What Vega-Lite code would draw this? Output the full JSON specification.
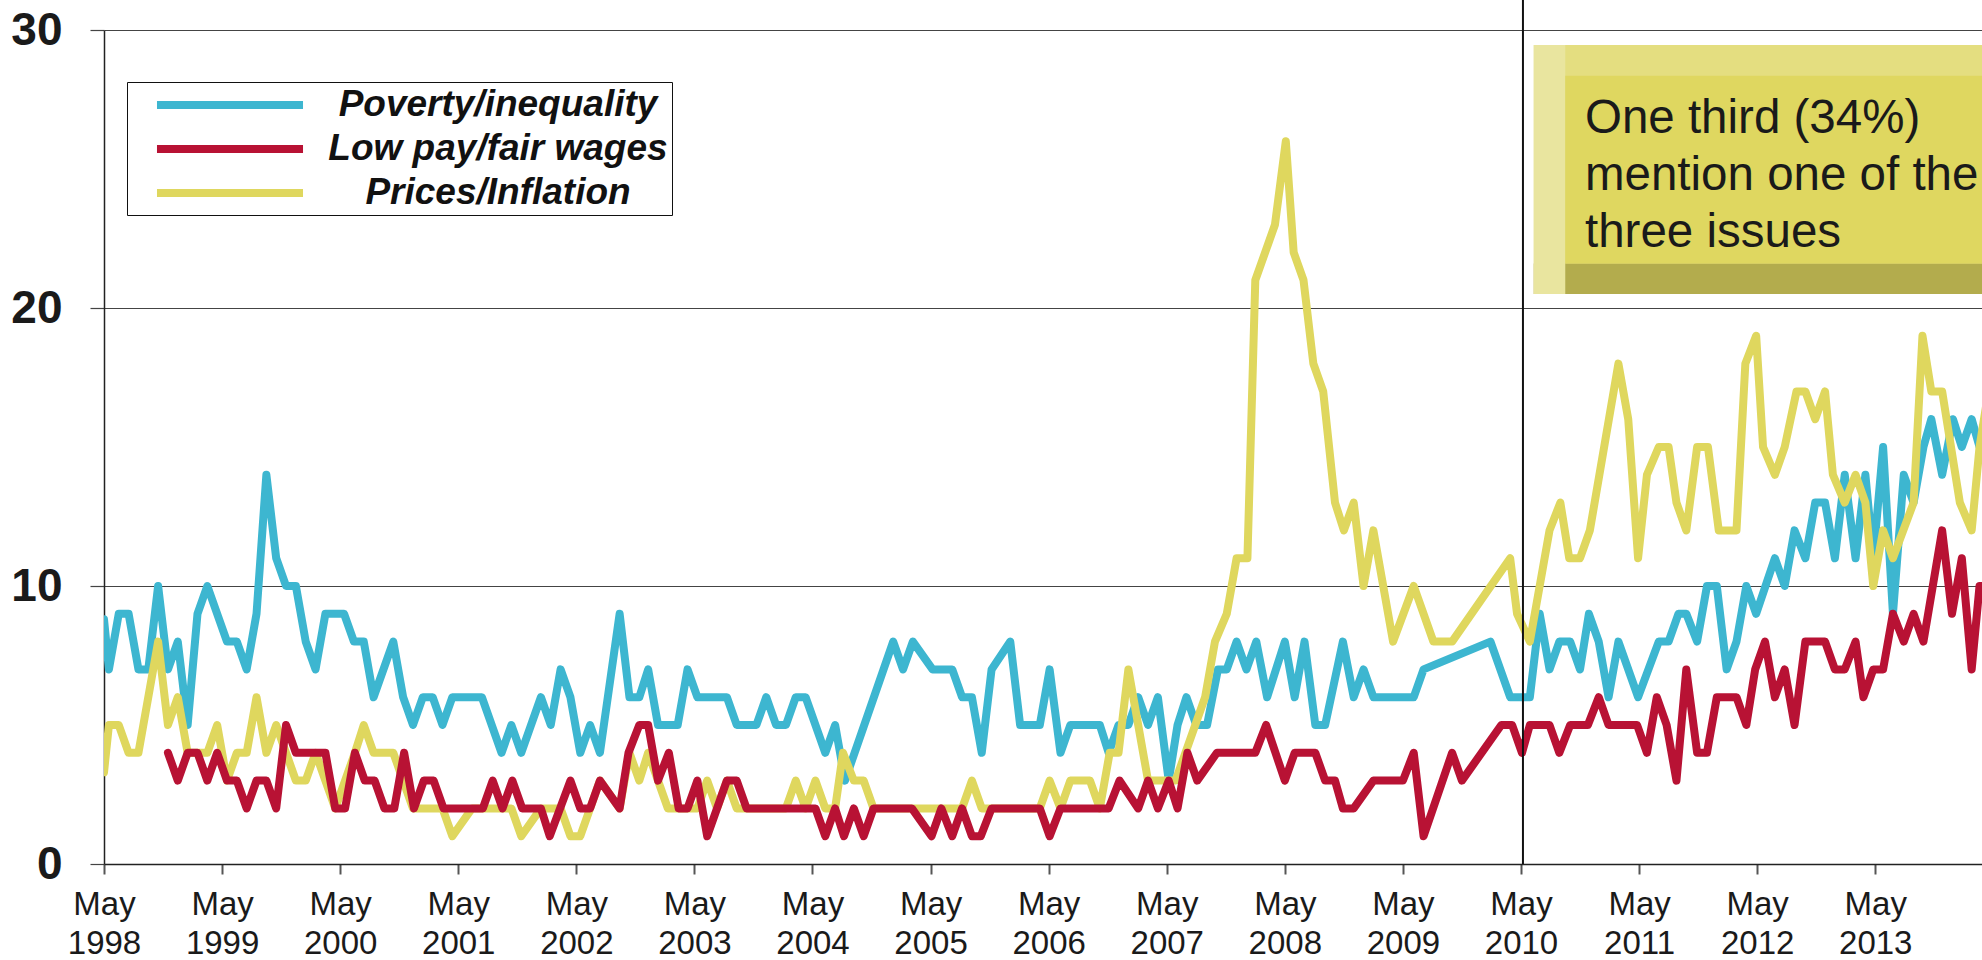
{
  "$schema": "https://vega.github.io/schema/vega-lite/v6.json",
  "width": 1878,
  "height": 834,
  "autosize": {"type": "none"},
  "padding": {"left": 104, "top": 30, "right": 0, "bottom": 96},
  "background": "white",
  "config": {"view": {"stroke": null}, "font": "Liberation Sans"},
  "datasets": {
    "poverty": [
      {"month":0,"pct":8.8},{"month":0.5,"pct":7},{"month":1.5,"pct":9},{"month":2.5,"pct":9},{"month":3.5,"pct":7},{"month":4.5,"pct":7},{"month":5.5,"pct":10},{"month":6.5,"pct":7},{"month":7.5,"pct":8},{"month":8.5,"pct":5},{"month":9.5,"pct":9},{"month":10.5,"pct":10},{"month":12.5,"pct":8},{"month":13.5,"pct":8},{"month":14.5,"pct":7},{"month":15.5,"pct":9},{"month":16.5,"pct":14},{"month":17.5,"pct":11},{"month":18.5,"pct":10},{"month":19.5,"pct":10},{"month":20.5,"pct":8},{"month":21.5,"pct":7},{"month":22.5,"pct":9},{"month":24.4,"pct":9},{"month":25.4,"pct":8},{"month":26.4,"pct":8},{"month":27.4,"pct":6},{"month":29.4,"pct":8},{"month":30.4,"pct":6},{"month":31.4,"pct":5},{"month":32.4,"pct":6},{"month":33.4,"pct":6},{"month":34.4,"pct":5},{"month":35.4,"pct":6},{"month":38.4,"pct":6},{"month":40.4,"pct":4},{"month":41.4,"pct":5},{"month":42.4,"pct":4},{"month":44.4,"pct":6},{"month":45.4,"pct":5},{"month":46.4,"pct":7},{"month":47.4,"pct":6},{"month":48.4,"pct":4},{"month":49.4,"pct":5},{"month":50.4,"pct":4},{"month":52.4,"pct":9},{"month":53.4,"pct":6},{"month":54.4,"pct":6},{"month":55.3,"pct":7},{"month":56.3,"pct":5},{"month":58.3,"pct":5},{"month":59.3,"pct":7},{"month":60.3,"pct":6},{"month":63.3,"pct":6},{"month":64.3,"pct":5},{"month":66.3,"pct":5},{"month":67.3,"pct":6},{"month":68.3,"pct":5},{"month":69.3,"pct":5},{"month":70.3,"pct":6},{"month":71.3,"pct":6},{"month":73.3,"pct":4},{"month":74.3,"pct":5},{"month":75.3,"pct":3},{"month":80.2,"pct":8},{"month":81.2,"pct":7},{"month":82.2,"pct":8},{"month":84.2,"pct":7},{"month":86.2,"pct":7},{"month":87.2,"pct":6},{"month":88.2,"pct":6},{"month":89.2,"pct":4},{"month":90.2,"pct":7},{"month":92.1,"pct":8},{"month":93.1,"pct":5},{"month":95.1,"pct":5},{"month":96.1,"pct":7},{"month":97.2,"pct":4},{"month":98.2,"pct":5},{"month":101.2,"pct":5},{"month":102.1,"pct":4},{"month":103.1,"pct":5},{"month":104.1,"pct":5},{"month":105.1,"pct":6},{"month":106.1,"pct":5},{"month":107.1,"pct":6},{"month":108.2,"pct":3},{"month":109.1,"pct":5},{"month":110.0,"pct":6},{"month":111.0,"pct":5},{"month":112.1,"pct":5},{"month":113.2,"pct":7},{"month":114.1,"pct":7},{"month":115.1,"pct":8},{"month":116.1,"pct":7},{"month":117.1,"pct":8},{"month":118.2,"pct":6},{"month":120.0,"pct":8},{"month":121.0,"pct":6},{"month":122.0,"pct":8},{"month":123.1,"pct":5},{"month":124.1,"pct":5},{"month":125.9,"pct":8},{"month":127.0,"pct":6},{"month":128.0,"pct":7},{"month":129.0,"pct":6},{"month":133.1,"pct":6},{"month":134.1,"pct":7},{"month":140.9,"pct":8},{"month":142.9,"pct":6},{"month":144.9,"pct":6},{"month":145.9,"pct":9},{"month":146.9,"pct":7},{"month":147.9,"pct":8},{"month":149.0,"pct":8},{"month":150.0,"pct":7},{"month":150.9,"pct":9},{"month":151.9,"pct":8},{"month":152.9,"pct":6},{"month":153.9,"pct":8},{"month":155.9,"pct":6},{"month":158.0,"pct":8},{"month":159.0,"pct":8},{"month":160.0,"pct":9},{"month":160.8,"pct":9},{"month":161.9,"pct":8},{"month":162.9,"pct":10},{"month":163.9,"pct":10},{"month":164.9,"pct":7},{"month":165.9,"pct":8},{"month":166.9,"pct":10},{"month":167.9,"pct":9},{"month":169.8,"pct":11},{"month":170.8,"pct":10},{"month":171.8,"pct":12},{"month":172.9,"pct":11},{"month":173.9,"pct":13},{"month":174.9,"pct":13},{"month":175.9,"pct":11},{"month":176.9,"pct":14},{"month":178.0,"pct":11},{"month":179.0,"pct":14},{"month":179.8,"pct":11},{"month":180.8,"pct":15},{"month":181.8,"pct":9},{"month":182.9,"pct":14},{"month":183.9,"pct":13},{"month":184.9,"pct":15},{"month":185.7,"pct":16},{"month":186.8,"pct":14},{"month":187.9,"pct":16},{"month":188.8,"pct":15},{"month":189.8,"pct":16},{"month":190.6,"pct":15},{"month":191.5,"pct":15}
    ],
    "lowpay": [
      {"month":6.5,"pct":4},{"month":7.5,"pct":3},{"month":8.5,"pct":4},{"month":9.5,"pct":4},{"month":10.5,"pct":3},{"month":11.5,"pct":4},{"month":12.5,"pct":3},{"month":13.5,"pct":3},{"month":14.5,"pct":2},{"month":15.5,"pct":3},{"month":16.5,"pct":3},{"month":17.5,"pct":2},{"month":18.5,"pct":5},{"month":19.5,"pct":4},{"month":20.5,"pct":4},{"month":21.5,"pct":4},{"month":22.5,"pct":4},{"month":23.5,"pct":2},{"month":24.5,"pct":2},{"month":25.5,"pct":4},{"month":26.5,"pct":3},{"month":27.5,"pct":3},{"month":28.5,"pct":2},{"month":29.5,"pct":2},{"month":30.5,"pct":4},{"month":31.5,"pct":2},{"month":32.5,"pct":3},{"month":33.5,"pct":3},{"month":34.5,"pct":2},{"month":38.5,"pct":2},{"month":39.5,"pct":3},{"month":40.5,"pct":2},{"month":41.5,"pct":3},{"month":42.5,"pct":2},{"month":44.4,"pct":2},{"month":45.3,"pct":1},{"month":47.4,"pct":3},{"month":48.4,"pct":2},{"month":49.4,"pct":2},{"month":50.4,"pct":3},{"month":52.4,"pct":2},{"month":53.3,"pct":4},{"month":54.4,"pct":5},{"month":55.3,"pct":5},{"month":56.3,"pct":3},{"month":57.4,"pct":4},{"month":58.4,"pct":2},{"month":59.3,"pct":2},{"month":60.3,"pct":3},{"month":61.3,"pct":1},{"month":63.3,"pct":3},{"month":64.3,"pct":3},{"month":65.3,"pct":2},{"month":72.3,"pct":2},{"month":73.3,"pct":1},{"month":74.3,"pct":2},{"month":75.2,"pct":1},{"month":76.2,"pct":2},{"month":77.2,"pct":1},{"month":78.2,"pct":2},{"month":82.1,"pct":2},{"month":84.1,"pct":1},{"month":85.1,"pct":2},{"month":86.2,"pct":1},{"month":87.2,"pct":2},{"month":88.2,"pct":1},{"month":89.1,"pct":1},{"month":90.2,"pct":2},{"month":95.1,"pct":2},{"month":96.1,"pct":1},{"month":97.2,"pct":2},{"month":102.1,"pct":2},{"month":103.2,"pct":3},{"month":105.1,"pct":2},{"month":106.1,"pct":3},{"month":107.1,"pct":2},{"month":108.2,"pct":3},{"month":109.1,"pct":2},{"month":110.1,"pct":4},{"month":111.1,"pct":3},{"month":113.1,"pct":4},{"month":117.0,"pct":4},{"month":118.1,"pct":5},{"month":120.0,"pct":3},{"month":121.0,"pct":4},{"month":123.1,"pct":4},{"month":124.1,"pct":3},{"month":125.1,"pct":3},{"month":125.9,"pct":2},{"month":127.0,"pct":2},{"month":129.0,"pct":3},{"month":132.0,"pct":3},{"month":133.1,"pct":4},{"month":134.1,"pct":1},{"month":137.0,"pct":4},{"month":138.0,"pct":3},{"month":142.0,"pct":5},{"month":143.1,"pct":5},{"month":144.1,"pct":4},{"month":144.9,"pct":5},{"month":146.9,"pct":5},{"month":147.9,"pct":4},{"month":149.0,"pct":5},{"month":150.8,"pct":5},{"month":151.9,"pct":6},{"month":152.9,"pct":5},{"month":155.8,"pct":5},{"month":156.8,"pct":4},{"month":157.8,"pct":6},{"month":158.8,"pct":5},{"month":159.8,"pct":3},{"month":160.8,"pct":7},{"month":161.9,"pct":4},{"month":162.9,"pct":4},{"month":163.9,"pct":6},{"month":165.9,"pct":6},{"month":166.9,"pct":5},{"month":167.8,"pct":7},{"month":168.8,"pct":8},{"month":169.8,"pct":6},{"month":170.8,"pct":7},{"month":171.8,"pct":5},{"month":172.9,"pct":8},{"month":174.9,"pct":8},{"month":175.9,"pct":7},{"month":176.9,"pct":7},{"month":178.0,"pct":8},{"month":178.8,"pct":6},{"month":179.8,"pct":7},{"month":180.8,"pct":7},{"month":181.8,"pct":9},{"month":182.9,"pct":8},{"month":183.9,"pct":9},{"month":184.9,"pct":8},{"month":186.8,"pct":12},{"month":187.8,"pct":9},{"month":188.8,"pct":11},{"month":189.8,"pct":7},{"month":190.6,"pct":10},{"month":191.5,"pct":10}
    ],
    "prices": [
      {"month":0,"pct":3.3},{"month":0.5,"pct":5},{"month":1.5,"pct":5},{"month":2.5,"pct":4},{"month":3.5,"pct":4},{"month":5.5,"pct":8},{"month":6.5,"pct":5},{"month":7.5,"pct":6},{"month":8.5,"pct":4},{"month":10.5,"pct":4},{"month":11.5,"pct":5},{"month":12.5,"pct":3},{"month":13.5,"pct":4},{"month":14.5,"pct":4},{"month":15.5,"pct":6},{"month":16.5,"pct":4},{"month":17.5,"pct":5},{"month":18.5,"pct":4},{"month":19.5,"pct":3},{"month":20.5,"pct":3},{"month":21.5,"pct":4},{"month":22.5,"pct":3},{"month":23.5,"pct":2},{"month":24.5,"pct":3},{"month":25.5,"pct":4},{"month":26.4,"pct":5},{"month":27.4,"pct":4},{"month":29.4,"pct":4},{"month":30.4,"pct":3},{"month":31.4,"pct":2},{"month":34.4,"pct":2},{"month":35.4,"pct":1},{"month":37.4,"pct":2},{"month":41.4,"pct":2},{"month":42.4,"pct":1},{"month":44.4,"pct":2},{"month":46.4,"pct":2},{"month":47.4,"pct":1},{"month":48.4,"pct":1},{"month":49.4,"pct":2},{"month":50.4,"pct":3},{"month":52.4,"pct":2},{"month":53.4,"pct":4},{"month":54.4,"pct":3},{"month":55.3,"pct":4},{"month":56.3,"pct":3},{"month":57.3,"pct":2},{"month":60.3,"pct":2},{"month":61.3,"pct":3},{"month":62.3,"pct":2},{"month":63.3,"pct":3},{"month":64.3,"pct":2},{"month":69.3,"pct":2},{"month":70.3,"pct":3},{"month":71.3,"pct":2},{"month":72.3,"pct":3},{"month":73.3,"pct":2},{"month":74.3,"pct":2},{"month":75.1,"pct":4},{"month":76.2,"pct":3},{"month":77.2,"pct":3},{"month":78.2,"pct":2},{"month":87.2,"pct":2},{"month":88.2,"pct":3},{"month":89.2,"pct":2},{"month":95.1,"pct":2},{"month":96.1,"pct":3},{"month":97.2,"pct":2},{"month":98.2,"pct":3},{"month":100.2,"pct":3},{"month":101.2,"pct":2},{"month":102.2,"pct":4},{"month":103.1,"pct":4},{"month":104.1,"pct":7},{"month":106.1,"pct":3},{"month":108.9,"pct":3},{"month":111.9,"pct":6},{"month":112.9,"pct":8},{"month":114.1,"pct":9},{"month":115.1,"pct":11},{"month":116.2,"pct":11},{"month":117.0,"pct":21},{"month":119.0,"pct":23},{"month":120.1,"pct":26},{"month":120.9,"pct":22},{"month":121.9,"pct":21},{"month":122.9,"pct":18},{"month":123.9,"pct":17},{"month":125.1,"pct":13},{"month":126.0,"pct":12},{"month":127.0,"pct":13},{"month":128.0,"pct":10},{"month":129.0,"pct":12},{"month":131.0,"pct":8},{"month":133.1,"pct":10},{"month":135.1,"pct":8},{"month":137.0,"pct":8},{"month":142.9,"pct":11},{"month":143.6,"pct":9},{"month":144.9,"pct":8},{"month":146.9,"pct":12},{"month":148.0,"pct":13},{"month":148.9,"pct":11},{"month":150.0,"pct":11},{"month":151.0,"pct":12},{"month":153.9,"pct":18},{"month":154.9,"pct":16},{"month":155.9,"pct":11},{"month":156.8,"pct":14},{"month":158.0,"pct":15},{"month":159.0,"pct":15},{"month":159.8,"pct":13},{"month":160.8,"pct":12},{"month":161.9,"pct":15},{"month":163.0,"pct":15},{"month":164.1,"pct":12},{"month":165.9,"pct":12},{"month":166.8,"pct":18},{"month":167.9,"pct":19},{"month":168.6,"pct":15},{"month":169.8,"pct":14},{"month":170.8,"pct":15},{"month":172.0,"pct":17},{"month":172.9,"pct":17},{"month":173.9,"pct":16},{"month":174.9,"pct":17},{"month":175.7,"pct":14},{"month":176.9,"pct":13},{"month":178.0,"pct":14},{"month":179.0,"pct":13},{"month":179.8,"pct":10},{"month":180.8,"pct":12},{"month":181.8,"pct":11},{"month":183.9,"pct":13},{"month":184.8,"pct":19},{"month":185.7,"pct":17},{"month":186.8,"pct":17},{"month":188.6,"pct":13},{"month":189.8,"pct":12},{"month":190.6,"pct":15},{"month":191.5,"pct":17}
    ]
  },
  "layer": [
    {
      "data": {"name": "poverty"},
      "mark": {"type": "line", "strokeWidth": 8, "strokeJoin": "round", "strokeCap": "round", "clip": true},
      "encoding": {
        "x": {"field": "month", "type": "quantitative",
          "scale": {"domain": [0, 190.85], "nice": false, "zero": false},
          "axis": {"title": null, "values": [0,12,24,36,48,60,72,84,96,108,120,132,144,156,168,180],
            "labelExpr": "['May', '' + (1998 + round(datum.value / 12))]",
            "grid": false, "domain": true, "domainColor": "#222", "domainWidth": 1.5,
            "ticks": true, "tickSize": 10, "tickColor": "#555", "tickWidth": 2,
            "labelFont": "Liberation Sans", "labelFontSize": 33, "labelColor": "#1a1a1a",
            "labelLineHeight": 39, "labelBaseline": "top", "labelPadding": 14, "labelAlign": "center",
            "labelOverlap": false, "labelFlush": false}},
        "y": {"field": "pct", "type": "quantitative",
          "scale": {"domain": [0, 30], "nice": false},
          "axis": {"title": null, "values": [0,10,20,30], "grid": true, "gridColor": "#444", "gridWidth": 1.2,
            "domain": true, "domainColor": "#222", "domainWidth": 1.5,
            "ticks": true, "tickSize": 14, "tickColor": "#444", "tickWidth": 1.2,
            "labelFont": "Liberation Sans", "labelFontSize": 46, "labelFontWeight": "bold", "labelColor": "#1a1a1a",
            "labelPadding": 28}},
        "color": {"datum": "Poverty/inequality", "type": "nominal",
          "scale": {"domain": ["Poverty/inequality", "Low pay/fair wages", "Prices/Inflation"], "range": ["#3db6d0", "#b81234", "#dfd75e"]},
          "legend": {"title": null, "orient": "none", "legendX": 23, "legendY": 52,
            "symbolType": "M-5,0H5", "symbolSize": 853, "symbolStrokeWidth": 8,
            "labelFont": "Liberation Sans", "labelFontSize": 37, "labelFontWeight": "bold", "labelFontStyle": "italic",
            "labelColor": "#111", "labelLimit": 1000, "labelAlign": "center", "labelOffset": 249,
            "strokeColor": "#111", "padding": 4, "symbolOffset": 80, "rowPadding": 7, "fillColor": "white"}}
      }
    },
    {
      "data": {"name": "prices"},
      "mark": {"type": "line", "strokeWidth": 8, "strokeJoin": "round", "strokeCap": "round", "clip": true},
      "encoding": {
        "x": {"field": "month", "type": "quantitative"},
        "y": {"field": "pct", "type": "quantitative"},
        "color": {"datum": "Prices/Inflation", "type": "nominal"}
      }
    },
    {
      "data": {"name": "lowpay"},
      "mark": {"type": "line", "strokeWidth": 8, "strokeJoin": "round", "strokeCap": "round", "clip": true},
      "encoding": {
        "x": {"field": "month", "type": "quantitative"},
        "y": {"field": "pct", "type": "quantitative"},
        "color": {"datum": "Low pay/fair wages", "type": "nominal"}
      }
    },
    {
      "data": {"values": [{}]},
      "mark": {"type": "rule", "color": "#111", "strokeWidth": 2},
      "encoding": {"x": {"datum": 144.2}, "y": {"datum": 0}, "y2": {"datum": 31.1}}
    },
    {
      "data": {"values": [{}]},
      "mark": {"type": "rect", "color": "#e4de80"},
      "encoding": {"x": {"datum": 145.3}, "x2": {"datum": 200}, "y": {"datum": 29.46}, "y2": {"datum": 20.5}}
    },
    {
      "data": {"values": [{}]},
      "mark": {"type": "rect", "color": "#b3ac4d"},
      "encoding": {"x": {"datum": 145.3}, "x2": {"datum": 200}, "y": {"datum": 21.6}, "y2": {"datum": 20.5}}
    },
    {
      "data": {"values": [{}]},
      "mark": {"type": "rect", "color": "#e9e59f"},
      "encoding": {"x": {"datum": 145.3}, "x2": {"datum": 148.5}, "y": {"datum": 29.46}, "y2": {"datum": 20.5}}
    },
    {
      "data": {"values": [{}]},
      "mark": {"type": "rect", "color": "#dfd760"},
      "encoding": {"x": {"datum": 148.5}, "x2": {"datum": 200}, "y": {"datum": 28.35}, "y2": {"datum": 21.6}}
    },
    {
      "data": {"values": [{}]},
      "mark": {"type": "text", "text": ["One third (34%)", "mention one of the", "three issues"],
        "align": "left", "baseline": "alphabetic", "font": "Liberation Sans", "fontSize": 47.5, "lineHeight": 57, "color": "#1a1a1a"},
      "encoding": {"x": {"datum": 150.5}, "y": {"datum": 26.3}}
    }
  ]
}
